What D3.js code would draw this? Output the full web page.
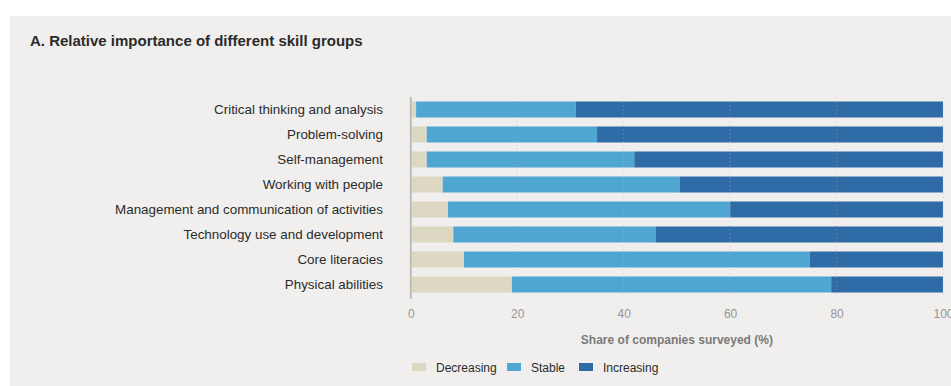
<!DOCTYPE html>
<html>
<head>
<meta charset="utf-8">
<script src="https://cdn.jsdelivr.net/npm/d3@7"></script>
<style>
  html, body { margin: 0; padding: 0; background: #ffffff; }
  svg { display: block; }
  text { font-family: "Liberation Sans", Arial, Helvetica, sans-serif; }
</style>
</head>
<body>
<svg id="chart" width="951" height="386"></svg>
<script>
// Skill groups, top to bottom
const categories = [
  "Critical thinking and analysis",
  "Problem-solving",
  "Self-management",
  "Working with people",
  "Management and communication of activities",
  "Technology use and development",
  "Core literacies",
  "Physical abilities"
];

// Share of companies surveyed (%) per outlook
const decreasing = [1, 3, 3, 6, 7, 8, 10, 19];
const stable     = [30, 32, 39, 44.5, 53, 38, 65, 60];
const increasing = [69, 65, 58, 49.5, 40, 54, 25, 21];

const seriesNames = ["Decreasing", "Stable", "Increasing"];
const xTicks = [0, 20, 40, 60, 80, 100];

const colors = {
  Decreasing: "#dcd8c2",
  Stable: "#4fa6d2",
  Increasing: "#2f6ba7"
};

const rows = categories.map((c, i) => ({
  category: c,
  Decreasing: decreasing[i],
  Stable: stable[i],
  Increasing: increasing[i]
}));

const svg = d3.select("#chart");

// Panel background
svg.append("rect")
  .attr("x", 10).attr("y", 16)
  .attr("width", 941).attr("height", 370)
  .attr("fill", "#f0efed");

// Title
svg.append("text")
  .attr("x", 30).attr("y", 46)
  .attr("font-size", 15)
  .attr("font-weight", 600)
  .attr("fill", "#2b2b2b")
  .text("A. Relative importance of different skill groups");

const x = d3.scaleLinear().domain([0, 100]).range([410.8, 943]);
const y = d3.scaleBand().domain(categories).range([97, 297])
  .paddingInner(0.36).paddingOuter(0.18);

const stack = d3.stack().keys(seriesNames);
const stacked = stack(rows);

// Stacked bars
svg.append("g")
  .selectAll("g")
  .data(stacked)
  .join("g")
  .attr("fill", d => colors[d.key])
  .selectAll("rect")
  .data(d => d)
  .join("rect")
  .attr("x", d => x(d[0]))
  .attr("y", d => y(d.data.category))
  .attr("width", d => x(d[1]) - x(d[0]))
  .attr("height", y.bandwidth());

// Dotted gridlines
svg.append("g")
  .selectAll("line")
  .data(xTicks.filter(t => t > 0))
  .join("line")
  .attr("x1", d => x(d)).attr("x2", d => x(d))
  .attr("y1", 97).attr("y2", 299)
  .attr("stroke", "#b8b8b8")
  .attr("stroke-opacity", 0.6)
  .attr("stroke-width", 1)
  .attr("stroke-dasharray", "1,3");

// Baseline at zero
svg.append("line")
  .attr("x1", x(0)).attr("x2", x(0))
  .attr("y1", 97).attr("y2", 299)
  .attr("stroke", "#bdbdbd")
  .attr("stroke-width", 2);

// X axis tick labels
const xAxis = d3.axisBottom(x).tickValues(xTicks).tickSize(0).tickPadding(0);
const gx = svg.append("g").attr("transform", "translate(0,309)").call(xAxis);
gx.select(".domain").remove();
gx.selectAll("text")
  .attr("font-size", 12)
  .attr("fill", "#959595")
  .attr("font-family", "'Liberation Sans', Arial, sans-serif");

// Axis title
svg.append("text")
  .attr("x", (x(0) + x(100)) / 2)
  .attr("y", 344)
  .attr("text-anchor", "middle")
  .attr("font-size", 12)
  .attr("font-weight", "bold")
  .attr("fill", "#7a7a7a")
  .text("Share of companies surveyed (%)");

// Category labels
const yAxis = d3.axisLeft(y).tickSize(0).tickPadding(0);
const gy = svg.append("g").attr("transform", "translate(383,0)").call(yAxis);
gy.select(".domain").remove();
gy.selectAll("text")
  .attr("font-size", 13.4)
  .attr("fill", "#2b2b2b")
  .attr("font-family", "'Liberation Sans', Arial, sans-serif");

// Legend
const legendX = [412, 507, 579];
const legend = svg.append("g");
const items = legend.selectAll("g")
  .data(seriesNames)
  .join("g")
  .attr("transform", (d, i) => `translate(${legendX[i]},363)`);
items.append("rect")
  .attr("width", 14).attr("height", 8)
  .attr("fill", d => colors[d]);
items.append("text")
  .attr("x", 24).attr("y", 8.5)
  .attr("font-size", 12)
  .attr("fill", "#2b2b2b")
  .text(d => d);
</script>
</body>
</html>
